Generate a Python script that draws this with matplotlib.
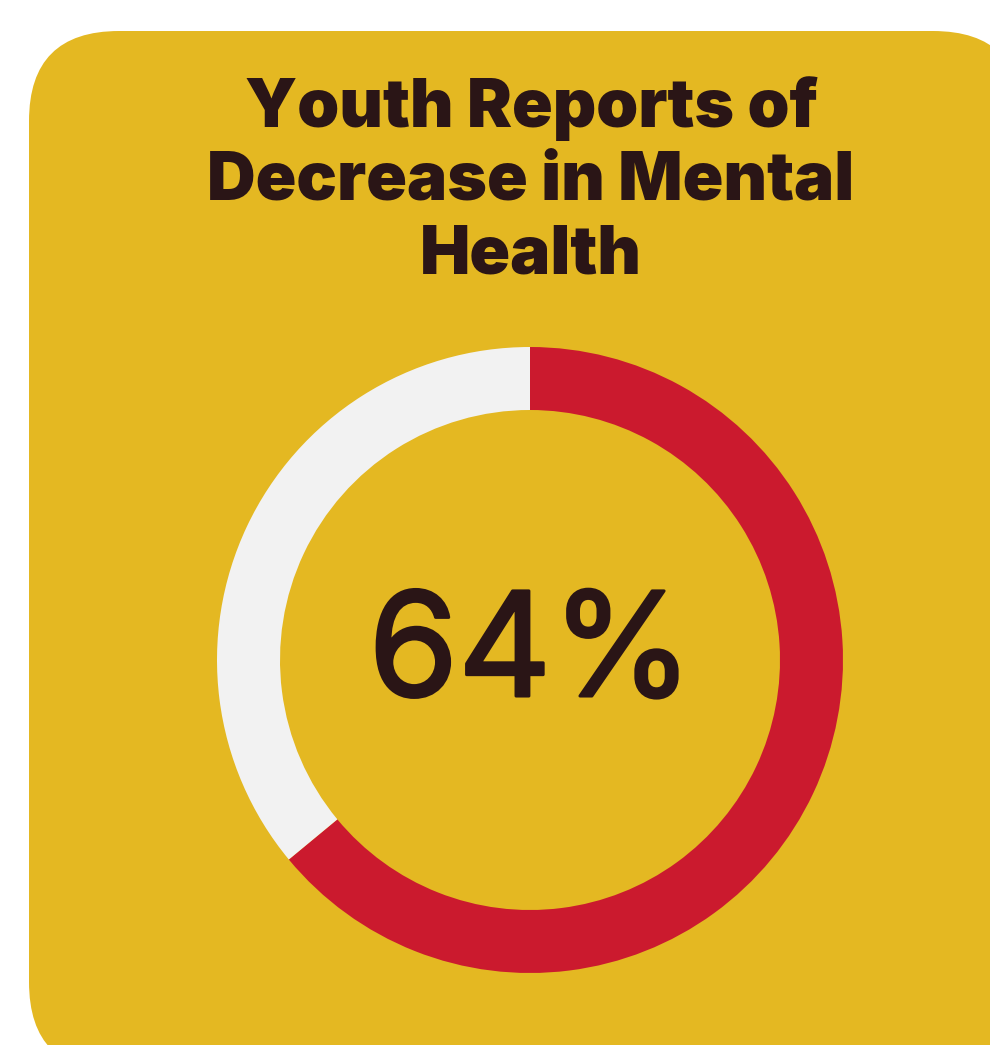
import matplotlib
matplotlib.use("Agg")
import matplotlib.pyplot as plt
import matplotlib.patheffects as pe
from matplotlib.patches import FancyBboxPatch

# data
title_lines = ["Youth Reports of", "Decrease in Mental", "Health"]
shares = [64, 36]
share_label = "64%"

yellow = "#E4B822"
red = "#CB1A2E"
grey = "#F2F2F2"
ink = "#2A1516"

W, H = 990, 1045
fig = plt.figure(figsize=(W / 100, H / 100), dpi=100)
fig.patch.set_facecolor("white")
ax = fig.add_axes([0, 0, 1, 1])

# rounded card, partly running off the right and bottom edge
card = FancyBboxPatch((29, -27), 994, 1041,
                      boxstyle="round,pad=0,rounding_size=90",
                      facecolor=yellow, edgecolor="none", zorder=0)
ax.add_patch(card)

ax.pie(shares, colors=[red, grey], startangle=90, counterclock=False,
       center=(530, H - 660), radius=313,
       wedgeprops=dict(width=63, edgecolor="none", linewidth=0))

# slightly heavier than Inter regular
ax.text(531, H - 696, share_label, ha="center", va="baseline",
        fontsize=104, family="Inter", color=ink,
        path_effects=[pe.withStroke(linewidth=2.2, foreground=ink)])

for i, line in enumerate(title_lines):
    ax.text(531, H - 127 - i * 73, line, ha="center", va="baseline",
            fontsize=48.5, fontweight="black", family="Inter", color=ink)

ax.set_xlim(0, W)
ax.set_ylim(0, H)
ax.set_aspect("equal")
ax.axis("off")

fig.savefig("out.png", dpi=100, facecolor="white")
